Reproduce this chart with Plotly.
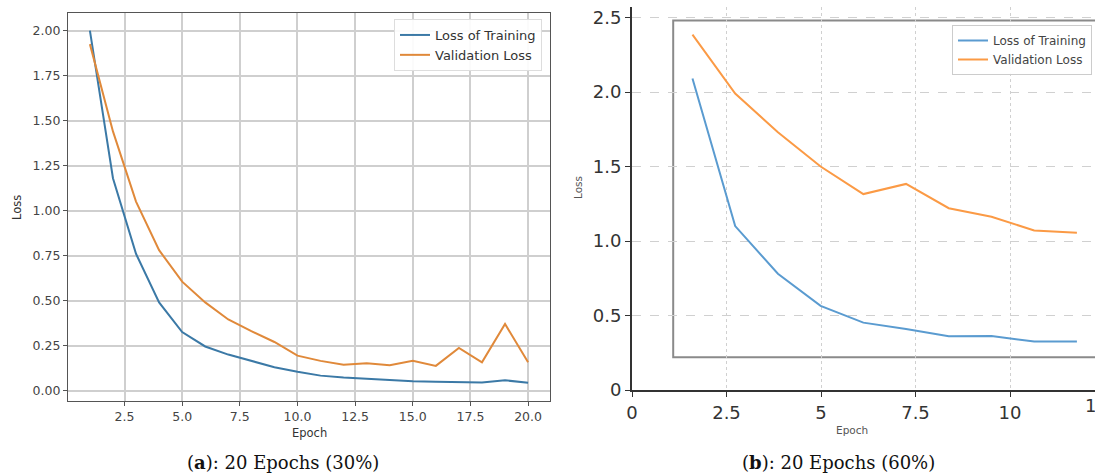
import plotly.graph_objects as go

# ---- data: panel (a) ----
epochs_a = list(range(1, 21))
train_a = [2.00, 1.18, 0.76, 0.49, 0.325, 0.245, 0.20, 0.165, 0.13, 0.105,
           0.083, 0.073, 0.065, 0.059, 0.052, 0.049, 0.048, 0.045, 0.057, 0.043]
val_a = [1.925, 1.44, 1.05, 0.78, 0.605, 0.49, 0.395, 0.33, 0.27, 0.194,
         0.165, 0.143, 0.152, 0.141, 0.166, 0.137, 0.237, 0.157, 0.37, 0.157]

# ---- data: panel (b) ----
epochs_b = [1.6, 2.73, 3.86, 4.99, 6.12, 7.25, 8.38, 9.51, 10.64, 11.77]
train_b = [2.09, 1.10, 0.78, 0.565, 0.452, 0.41, 0.36, 0.362, 0.326, 0.326]
val_b = [2.385, 1.99, 1.73, 1.50, 1.315, 1.383, 1.22, 1.163, 1.07, 1.056]

ticks_a_x = [2.5, 5.0, 7.5, 10.0, 12.5, 15.0, 17.5, 20.0]
ticks_a_y = [0.0, 0.25, 0.5, 0.75, 1.0, 1.25, 1.5, 1.75, 2.0]
ticks_b_x = [0, 2.5, 5, 7.5, 10]
ticks_b_x_text = ["0", "2.5", "5", "7.5", "10"]
ticks_b_y = [0, 0.5, 1.0, 1.5, 2.0, 2.5]
ticks_b_y_text = ["0", "0.5", "1.0", "1.5", "2.0", "2.5"]

W, H = 1095, 474
BLUE_A, ORANGE_A = "#3b79a6", "#e0893a"
BLUE_B, ORANGE_B = "#5a9bd0", "#fb9a45"

fig = go.Figure()
fig.add_trace(go.Scatter(x=epochs_a, y=train_a, mode="lines", name="Loss of Training",
                         line=dict(color=BLUE_A, width=2), xaxis="x", yaxis="y", legend="legend"))
fig.add_trace(go.Scatter(x=epochs_a, y=val_a, mode="lines", name="Validation Loss",
                         line=dict(color=ORANGE_A, width=2), xaxis="x", yaxis="y", legend="legend"))
fig.add_trace(go.Scatter(x=epochs_b, y=train_b, mode="lines", name="Loss of Training",
                         line=dict(color=BLUE_B, width=2), xaxis="x2", yaxis="y2", legend="legend2"))
fig.add_trace(go.Scatter(x=epochs_b, y=val_b, mode="lines", name="Validation Loss",
                         line=dict(color=ORANGE_B, width=2), xaxis="x2", yaxis="y2", legend="legend2"))

def px(x):
    return x / W

def py(y):
    return 1 - y / H

tickfont_a = dict(family="DejaVu Sans", size=12.5, color="#444")
tickfont_b = dict(family="DejaVu Sans", size=18, color="#333")

def label(text, x, y, size, color, angle=0, family="DejaVu Sans"):
    return dict(text=text, x=px(x), y=py(y), xref="paper", yref="paper", showarrow=False,
                xanchor="center", yanchor="middle", textangle=angle,
                font=dict(family=family, size=size, color=color))

fig.update_layout(
    template="none",
    width=W, height=H, autosize=False,
    margin=dict(l=0, r=0, t=0, b=0, pad=0),
    paper_bgcolor="white", plot_bgcolor="white",
    xaxis=dict(domain=[px(68), px(550)], range=[0.05, 20.95], tickvals=ticks_a_x,
               ticktext=[f"{v:.1f}" for v in ticks_a_x], automargin=False,
               showline=True, mirror=True, linecolor="#555", linewidth=1.3,
               ticks="outside", ticklen=4, tickcolor="#555", tickfont=tickfont_a,
               showgrid=True, gridcolor="#cfcfcf", gridwidth=1.5, zeroline=False, anchor="y"),
    yaxis=dict(domain=[py(401), py(13)], range=[-0.058, 2.098], tickvals=ticks_a_y,
               ticktext=[f"{v:.2f}" for v in ticks_a_y], automargin=False,
               showline=True, mirror=True, linecolor="#555", linewidth=1.3,
               ticks="outside", ticklen=4, tickcolor="#555", tickfont=tickfont_a,
               showgrid=True, gridcolor="#cfcfcf", gridwidth=1.5, zeroline=False, anchor="x"),
    xaxis2=dict(domain=[px(632), 1.0], range=[0, (W - 632) / 37.8], tickvals=ticks_b_x,
                ticktext=ticks_b_x_text, automargin=False,
                showline=True, linecolor="#333", linewidth=2,
                ticks="outside", ticklen=5, tickcolor="#333", tickfont=tickfont_b,
                showgrid=True, gridcolor="#d0d0d0", gridwidth=1, griddash="dot",
                zeroline=False, anchor="y2"),
    yaxis2=dict(domain=[py(390), py(7)], range=[0, (390 - 7) / 149.0], tickvals=ticks_b_y,
                ticktext=ticks_b_y_text, automargin=False,
                showline=True, linecolor="#333", linewidth=2,
                ticks="outside", ticklen=5, tickcolor="#333", tickfont=tickfont_b,
                showgrid=True, gridcolor="#d0d0d0", gridwidth=1, griddash="dash",
                zeroline=False, anchor="x2"),
    legend=dict(x=px(394), y=py(19), xanchor="left", yanchor="top",
                bgcolor="rgba(255,255,255,0.9)", bordercolor="#dddddd", borderwidth=1,
                font=dict(family="DejaVu Sans", size=13, color="#333"),
                tracegroupgap=0, itemwidth=30),
    legend2=dict(x=px(952), y=py(25), xanchor="left", yanchor="top",
                 bgcolor="rgba(255,255,255,0.9)", bordercolor="#cccccc", borderwidth=1,
                 font=dict(family="DejaVu Sans", size=12, color="#444"),
                 tracegroupgap=0, itemwidth=30),
    shapes=[dict(type="rect", xref="x2", yref="y2", x0=1.09, x1=13.5, y0=0.22, y1=2.48,
                 line=dict(color="#8a8a8a", width=2), layer="below")],
    annotations=[
        label("Loss", 17, 208, 11.5, "#333", angle=-90),
        label("Epoch", 309, 433, 11.5, "#333"),
        label("Loss", 578, 188, 10.5, "#555", angle=-90),
        label("Epoch", 852, 430, 10.5, "#555"),
        label("12.5", 1105, 405, 18, "#333"),
        label("(<b>a</b>): 20 Epochs (30%)", 283, 462, 18, "#111", family="DejaVu Serif"),
        label("(<b>b</b>): 20 Epochs (60%)", 838, 462, 18, "#111", family="DejaVu Serif"),
    ],
)

fig.write_html("out.html", default_width=W, default_height=H,
               config={"responsive": False})
